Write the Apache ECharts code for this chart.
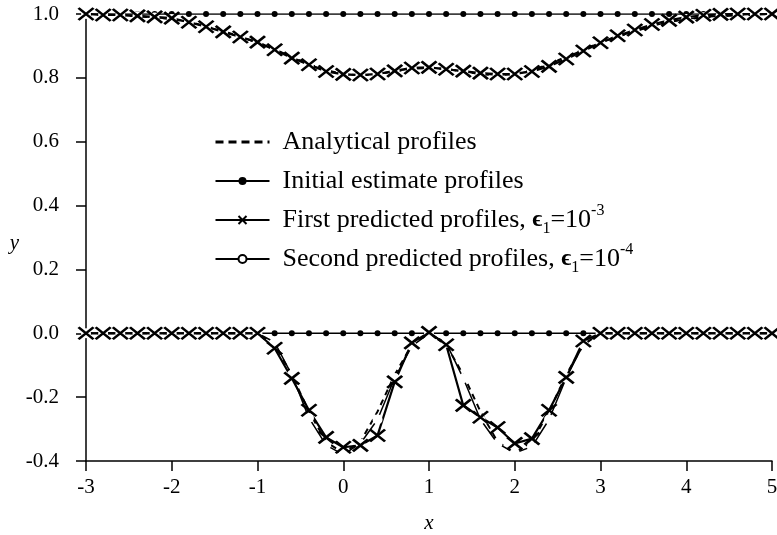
<!DOCTYPE html>
<html>
<head>
<meta charset="utf-8">
<title>profiles</title>
<script src="https://cdn.jsdelivr.net/npm/echarts@6/dist/echarts.min.js"></script>
<style>
html, body { margin: 0; padding: 0; background: #fff; }
#chart { width: 777px; height: 535px; }
</style>
</head>
<body>
<div id="chart"></div>
<script>
// x grid of the profiles (step 0.2)
var xs = [-3, -2.8, -2.6, -2.4, -2.2, -2, -1.8, -1.6, -1.4, -1.2, -1,
    -0.8, -0.6, -0.4, -0.2, 0, 0.2, 0.4, 0.6, 0.8, 1,
    1.2, 1.4, 1.6, 1.8, 2, 2.2, 2.4, 2.6, 2.8, 3,
    3.2, 3.4, 3.6, 3.8, 4, 4.2, 4.4, 4.6, 4.8, 5];

// upper profiles
var analyticalUp = [1.0, 0.998, 0.996, 0.993, 0.989, 0.984, 0.975, 0.962, 0.946, 0.929, 0.91,
    0.889, 0.866, 0.843, 0.824, 0.812, 0.808, 0.812, 0.82, 0.828, 0.831,
    0.828, 0.82, 0.812, 0.808, 0.812, 0.824, 0.843, 0.866, 0.889, 0.91,
    0.929, 0.946, 0.962, 0.975, 0.984, 0.989, 0.993, 0.996, 0.998, 1.0];
var initialUp = [1, 1, 1, 1, 1, 1, 1, 1, 1, 1, 1,
    1, 1, 1, 1, 1, 1, 1, 1, 1, 1,
    1, 1, 1, 1, 1, 1, 1, 1, 1, 1,
    1, 1, 1, 1, 1, 1, 1, 1, 1, 1];
var firstUp = [1.0, 0.997, 0.997, 0.994, 0.991, 0.987, 0.974, 0.96, 0.944, 0.928, 0.912,
    0.888, 0.862, 0.841, 0.82, 0.811, 0.809, 0.812, 0.822, 0.831, 0.833,
    0.827, 0.821, 0.815, 0.812, 0.812, 0.82, 0.836, 0.859, 0.884, 0.91,
    0.932, 0.95, 0.967, 0.98, 0.99, 0.996, 0.999, 1.0, 1.0, 1.0];
var secondUp = [1.0, 0.998, 0.996, 0.993, 0.989, 0.984, 0.975, 0.961, 0.945, 0.928, 0.91,
    0.888, 0.865, 0.842, 0.823, 0.811, 0.808, 0.812, 0.821, 0.829, 0.832,
    0.828, 0.82, 0.812, 0.809, 0.812, 0.823, 0.842, 0.865, 0.888, 0.91,
    0.929, 0.946, 0.962, 0.975, 0.984, 0.99, 0.994, 0.997, 0.999, 1.0];

// lower profiles
var analyticalLow = [0, 0, 0, 0, 0, 0, 0, 0, 0, 0, 0,
    -0.036, -0.13, -0.245, -0.34, -0.375, -0.34, -0.245, -0.13, -0.036, 0,
    -0.036, -0.13, -0.245, -0.34, -0.375, -0.34, -0.245, -0.13, -0.036, 0,
    0, 0, 0, 0, 0, 0, 0, 0, 0, 0];
var initialLow = [0, 0, 0, 0, 0, 0, 0, 0, 0, 0, 0,
    0, 0, 0, 0, 0, 0, 0, 0, 0, 0,
    0, 0, 0, 0, 0, 0, 0, 0, 0, 0,
    0, 0, 0, 0, 0, 0, 0, 0, 0, 0];
var firstLow = [0, 0, 0, 0, 0, 0, 0, 0, 0, 0, 0,
    -0.047, -0.141, -0.241, -0.326, -0.357, -0.351, -0.32, -0.152, -0.03, 0.003,
    -0.036, -0.226, -0.263, -0.295, -0.345, -0.33, -0.241, -0.138, -0.024, 0,
    0, 0, 0, 0, 0, 0, 0, 0, 0, 0];
var secondLow = [0, 0, 0, 0, 0, 0, 0, 0, 0, 0, 0,
    -0.028, -0.13, -0.265, -0.35, -0.38, -0.345, -0.27, -0.14, -0.04, 0,
    -0.03, -0.141, -0.27, -0.345, -0.375, -0.355, -0.27, -0.14, -0.035, 0,
    0, 0, 0, 0, 0, 0, 0, 0, 0, 0];

var names = ['Analytical profiles', 'Initial estimate profiles', 'First predicted profiles', 'Second predicted profiles'];
var epsTags = {'First predicted profiles': '-3', 'Second predicted profiles': '-4'};
var xTicks = [-3, -2, -1, 0, 1, 2, 3, 4, 5];
var yTicks = [-0.4, -0.2, 0, 0.2, 0.4, 0.6, 0.8, 1.0];

var serif = "'Liberation Serif', 'DejaVu Serif', serif";
var crossPath = 'path://M0,0L10,10M10,0L0,10';

function pairs(ys) {
    var out = [];
    for (var i = 0; i < xs.length; i++) {
        out.push([xs[i], ys[i]]);
    }
    return out;
}

function analytical(ys) {
    return {
        name: names[0], type: 'line', data: pairs(ys),
        showSymbol: false, symbol: 'none',
        lineStyle: {color: '#000', width: 2, type: [6, 5]},
        itemStyle: {color: '#000'}
    };
}
function initial(ys) {
    return {
        name: names[1], type: 'line', data: pairs(ys),
        symbol: 'circle', symbolSize: 6,
        lineStyle: {color: '#000', width: 1.5},
        itemStyle: {color: '#000'}
    };
}
function second(ys) {
    return {
        name: names[3], type: 'line', data: pairs(ys),
        symbol: 'emptyCircle', symbolSize: 8,
        lineStyle: {color: '#000', width: 1.5},
        itemStyle: {color: '#fff', borderColor: '#000', borderWidth: 1.5}
    };
}
function first(ys) {
    return {
        name: names[2], type: 'line', data: pairs(ys),
        symbol: crossPath, symbolSize: [15, 12],
        lineStyle: {color: '#000', width: 2.2},
        itemStyle: {color: '#000', borderColor: '#000', borderWidth: 2.6}
    };
}

var chart = echarts.init(document.getElementById('chart'));

var option = {
    backgroundColor: '#fff',
    animation: false,
    grid: {left: 86, right: 5, top: 14, bottom: 74, outerBoundsMode: 'none'},
    legend: {
        orient: 'vertical',
        left: 209,
        top: 120,
        itemWidth: 54,
        itemHeight: 10,
        itemGap: 5,
        selectedMode: false,
        data: [
            {name: names[0], itemStyle: {color: 'rgba(0,0,0,0)', borderWidth: 0}, lineStyle: {width: 3, type: [8, 5]}},
            {name: names[1], itemStyle: {color: '#000', borderWidth: 0}},
            {name: names[2], itemStyle: {color: '#000', borderColor: '#000', borderWidth: 2}},
            // legend turns the fill of an empty symbol into its stroke
            {name: names[3], itemStyle: {color: '#000', borderColor: '#000', borderWidth: 1.5}}
        ],
        formatter: function (name) {
            var s = '{g| }{t|' + name + '}';
            if (epsTags[name]) {
                s = '{g| }{t|' + name + ', }{e|ϵ}{sub|1}{t|=10}{sup|' + epsTags[name] + '}';
            }
            return s;
        },
        textStyle: {
            color: '#000',
            fontFamily: serif,
            fontSize: 26,
            lineHeight: 34,
            rich: {
                g: {width: 8, fontSize: 26, lineHeight: 34},
                t: {fontFamily: serif, fontSize: 26, lineHeight: 34, color: '#000'},
                e: {fontFamily: serif, fontSize: 24, fontWeight: 'bold', lineHeight: 34, color: '#000'},
                sub: {fontFamily: serif, fontSize: 16, lineHeight: 16, verticalAlign: 'bottom', color: '#000'},
                sup: {fontFamily: serif, fontSize: 16, lineHeight: 16, verticalAlign: 'top', color: '#000'}
            }
        }
    },
    xAxis: {
        type: 'value',
        min: xTicks[0],
        max: xTicks[xTicks.length - 1],
        interval: 1,
        name: 'x',
        nameLocation: 'middle',
        nameGap: 52,
        nameTextStyle: {fontFamily: serif, fontStyle: 'italic', fontSize: 21, color: '#000'},
        axisLine: {onZero: false, lineStyle: {color: '#000', width: 1.5}},
        axisTick: {inside: false, length: 10, lineStyle: {color: '#000', width: 1.5}},
        axisLabel: {margin: 16, fontFamily: serif, fontSize: 21, color: '#000'},
        splitLine: {show: false}
    },
    yAxis: {
        type: 'value',
        min: yTicks[0],
        max: yTicks[yTicks.length - 1],
        interval: 0.2,
        name: 'y',
        nameLocation: 'middle',
        nameGap: 67,
        nameRotate: 0,
        nameTextStyle: {fontFamily: serif, fontStyle: 'italic', fontSize: 21, color: '#000', verticalAlign: 'top', lineHeight: 12},
        axisLine: {show: true, onZero: false, lineStyle: {color: '#000', width: 1.5}},
        axisTick: {show: true, inside: false, length: 10, lineStyle: {color: '#000', width: 1.5}},
        axisLabel: {
            margin: 27, fontFamily: serif, fontSize: 21, color: '#000',
            formatter: function (v) { return v.toFixed(1); }
        },
        splitLine: {show: false}
    },
    series: [
        analytical(analyticalUp), analytical(analyticalLow),
        initial(initialUp), initial(initialLow),
        second(secondUp), second(secondLow),
        first(firstUp), first(firstLow)
    ]
};

chart.setOption(option);
</script>
</body>
</html>
